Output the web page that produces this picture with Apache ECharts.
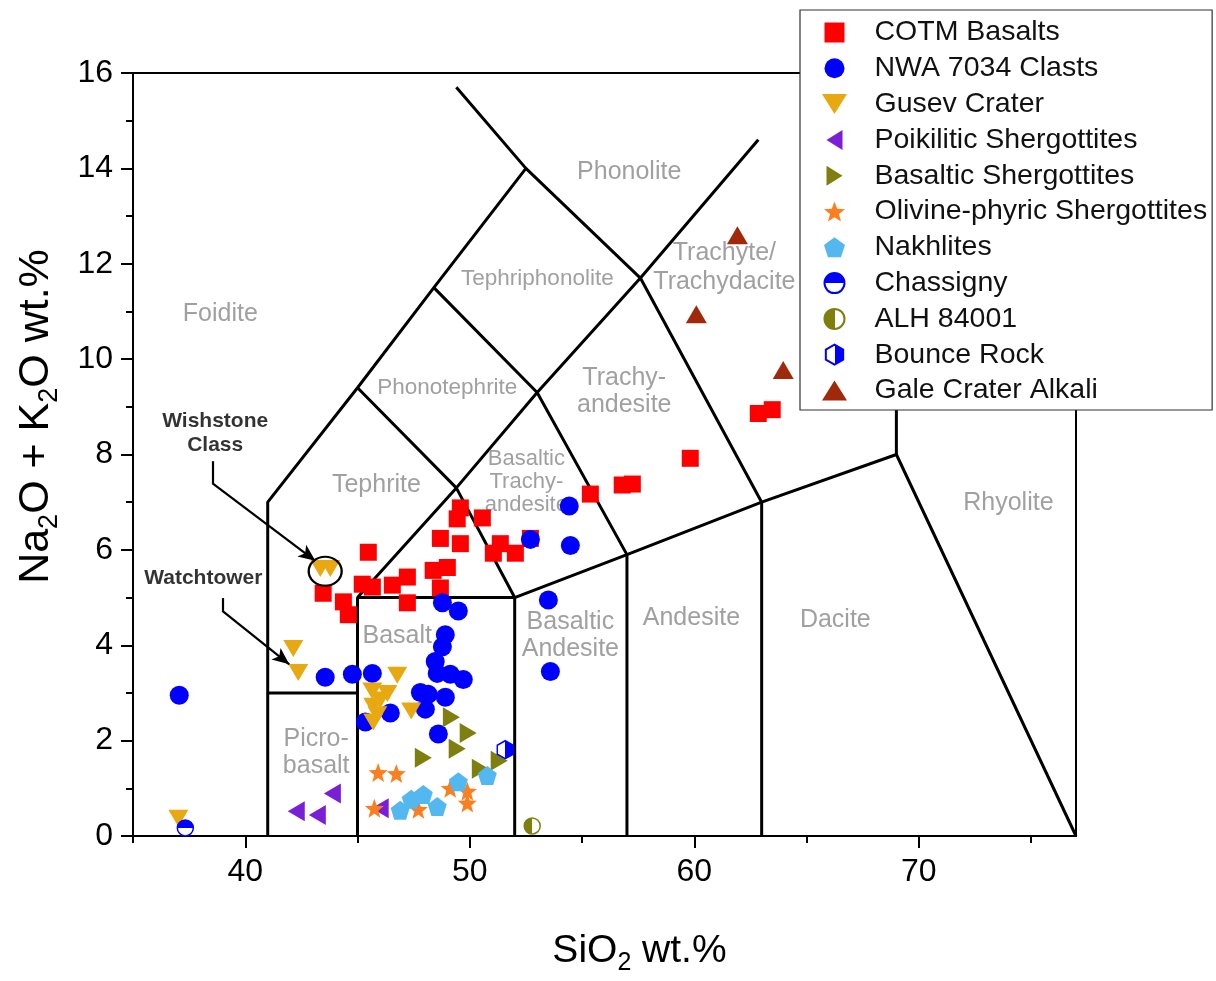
<!DOCTYPE html>
<html><head><meta charset="utf-8">
<script src="https://cdn.jsdelivr.net/npm/echarts@6/dist/echarts.min.js"></script>
<style>html,body{margin:0;padding:0;background:#fff}#c{width:1216px;height:981px}</style>
</head><body><div id="c"></div>
<script>
// ---------- DATA ----------
const xMajorTicks = [40, 50, 60, 70];
const xMinorTicks = [35, 45, 55, 65, 75];
const yTickStep = 2;

const cotmBasalts = [[43.47,5.09],[44.37,4.91],[44.59,4.64],[45.48,5.95],[45.21,5.28],[45.66,5.22],[46.55,5.26],[47.22,5.43],[47.22,4.89],[48.37,5.57],[49.0,5.63],[48.69,5.20],[48.69,6.24],[49.58,6.13],[49.44,6.65],[49.58,6.88],[50.56,6.67],[51.36,6.13],[51.05,5.93],[52.03,5.93],[52.7,6.24],[55.37,7.17],[56.79,7.36],[57.24,7.38],[59.82,7.92],[62.85,8.86],[63.47,8.94]];
const nwa7034Clasts = [[37.06,2.95],[43.56,3.33],[44.77,3.39],[45.66,3.41],[45.35,2.39],[46.46,2.58],[48.78,4.89],[49.49,4.72],[48.91,4.22],[48.78,3.97],[48.46,3.66],[48.55,3.41],[49.13,3.39],[49.71,3.28],[47.8,3.01],[48.15,2.97],[48.91,2.91],[48.02,2.66],[48.6,2.14],[52.7,6.22],[54.43,6.92],[54.48,6.09],[53.5,4.95],[53.59,3.45]];
const gusevCrater = [[43.34,5.61],[43.79,5.61],[42.14,3.93],[42.36,3.43],[37.02,0.37],[46.77,3.37],[45.66,3.04],[46.33,2.99],[46.01,2.85],[45.70,2.72],[45.88,2.54],[45.70,2.39],[47.39,2.62]];
const poikiliticShergottites = [[43.88,0.89],[42.27,0.52],[43.21,0.44],[46.01,0.58]];
const basalticShergottites = [[49.18,2.49],[49.93,2.16],[49.44,1.83],[47.93,1.64],[50.47,1.41],[51.31,1.58]];
const olivinePhyricShergottites = [[45.92,1.33],[46.73,1.31],[45.75,0.58],[47.71,0.56],[49.13,1.0],[49.89,0.94],[49.89,0.69]];
const nakhlites = [[46.9,0.54],[47.39,0.77],[47.93,0.87],[48.55,0.62],[49.49,1.14],[50.78,1.27]];
const chassigny = [[37.33,0.17]];
const alh84001 = [[52.78,0.21]];
const bounceRock = [[51.58,1.81]];
const galeCraterAlkali = [[61.92,12.6],[60.09,10.94],[63.96,9.77]];

// TAS field boundaries (SiO2, Na2O+K2O)
const tasBoundaries = [
  [[41,0],[41,7],[45,9.4],[48.4,11.5],[52.5,14],[49.4,15.7]],
  [[41,3],[45,3]],
  [[45,0],[45,5],[52,5],[52,0]],
  [[45,5],[49.4,7.3],[53,9.3],[57.6,11.7],[62.85,14.6]],
  [[45,9.4],[49.4,7.3],[52,5],[57,5.9],[63,7],[69,8],[77,0]],
  [[48.4,11.5],[53,9.3],[57,5.9],[57,0]],
  [[52.5,14],[57.6,11.7],[63,7],[63,0]],
  [[69,8],[69,12]]
];

const regionNames = ['Foidite','Phonolite','Tephriphonolite','Trachyte/\nTrachydacite','Phonotephrite','Trachy-\nandesite','Tephrite','Basaltic\nTrachy-\nandesite','Rhyolite','Basalt','Basaltic\nAndesite','Andesite','Dacite','Picro-\nbasalt'];
const regionAnchors = [[38.89,10.94],[57.10,13.93],[53.01,11.68],[61.34,11.91],[49.0,9.40],[56.88,9.31],[45.84,7.36],[52.52,7.42],[73.99,6.99],[46.77,4.20],[54.48,4.20],[59.87,4.57],[66.28,4.53],[43.16,1.75]];

const noteNames = ['Wishstone\nClass', 'Watchtower'];
const noteAnchors = [[38.66,8.44],[38.13,5.41]];
const wishstoneRing = [[43.56,5.55]];
const wishstoneArrow = [[38.53,7.86],[38.53,7.40],[43.12,5.77]];
const watchtowerArrow = [[38.98,4.99],[38.98,4.72],[41.96,3.60]];

// ---------- CHART ----------
const FONT = 'Liberation Sans, Arial, sans-serif';
const P = {
  square: 'path://M0,0 L1,0 L1,1 L0,1 Z',
  down: 'path://M-1,0 L1,0 L0,1.6 Z',
  up: 'path://M-1,1.6 L1,1.6 L0,0 Z',
  left: 'path://M1.6,-1 L1.6,1 L0,0 Z',
  right: 'path://M0,-1 L0,1 L1.6,0 Z',
  star: 'path://M0,-1 L0.247,-0.34 L0.951,-0.309 L0.399,0.13 L0.588,0.809 L0,0.42 L-0.588,0.809 L-0.399,0.13 L-0.951,-0.309 L-0.247,-0.34 Z',
  pent: 'path://M0,-1 L0.951,-0.309 L0.588,0.809 L-0.588,0.809 L-0.951,-0.309 Z',
  hex: 'path://M0,-1 L0.866,-0.5 L0.866,0.5 L0,1 L-0.866,0.5 L-0.866,-0.5 Z'
};
function split(c1, c2, vertical) {
  return {type:'linear', x:0, y:0, x2: vertical ? 0 : 1, y2: vertical ? 1 : 0,
    colorStops:[{offset:0,color:c1},{offset:0.5,color:c1},{offset:0.5,color:c2},{offset:1,color:c2}]};
}
const axisLineStyle = {color:'#000', width:2};

const series = [];
// region labels
series.push({
  type:'scatter', name:'regions', silent:true, symbolSize:1, itemStyle:{color:'transparent'}, z:1,
  data: regionNames.map((n,i)=>({name:n, value:regionAnchors[i]})),
  label:{show:true, position:'inside', formatter:'{b}', color:'#888888', fontFamily:FONT,
    fontSize:25, lineHeight:27, align:'center', verticalAlign:'middle'}
});
series[0].data.forEach(d=>{
  if (d.name==='Tephriphonolite' || d.name==='Phonotephrite') d.label = {fontSize:22.5};
  if (d.name.indexOf('Basaltic\nTrachy')===0) d.label = {fontSize:22, lineHeight:23};
  if (d.name.indexOf('Trachyte')===0) d.label = {fontSize:25, lineHeight:29};
});
// boundaries
tasBoundaries.forEach((b,i)=>{
  series.push({type:'line', name:'tas'+i, data:b, symbol:'none', silent:true, z:1,
    lineStyle:{color:'#000', width:3}, animation:false});
});
const dataSeries = [
  {name:'COTM Basalts', data:cotmBasalts, symbol:P.square, symbolSize:17, itemStyle:{color:'#ff0000'}},
  {name:'NWA 7034 Clasts', data:nwa7034Clasts, symbol:'circle', symbolSize:19, itemStyle:{color:'#0000ff'}},
  {name:'Gusev Crater', data:gusevCrater, symbol:P.down, symbolSize:[20,17], itemStyle:{color:'#e8a812'}},
  {name:'Poikilitic Shergottites', data:poikiliticShergottites, symbol:P.left, symbolSize:[17,20], itemStyle:{color:'#7a1fd6'}},
  {name:'Basaltic Shergottites', data:basalticShergottites, symbol:P.right, symbolSize:[17,20], itemStyle:{color:'#7f7f10'}},
  {name:'Olivine-phyric Shergottites', data:olivinePhyricShergottites, symbol:P.star, symbolSize:19, itemStyle:{color:'#fb7f1e'}},
  {name:'Nakhlites', data:nakhlites, symbol:P.pent, symbolSize:19, itemStyle:{color:'#54b8f0'}},
  {name:'Chassigny', data:chassigny, symbol:'circle', symbolSize:16, itemStyle:{color:split('#0000ff','#ffffff',true), borderColor:'#0000ff', borderWidth:1.5}},
  {name:'ALH 84001', data:alh84001, symbol:'circle', symbolSize:16, itemStyle:{color:split('#7f7f10','#ffffff',false), borderColor:'#7f7f10', borderWidth:1.5}},
  {name:'Bounce Rock', data:bounceRock, symbol:P.hex, symbolSize:[16,18], itemStyle:{color:split('#ffffff','#0000ff',false), borderColor:'#0000ff', borderWidth:1.5}},
  {name:'Gale Crater Alkali', data:galeCraterAlkali, symbol:P.up, symbolSize:[21,18], itemStyle:{color:'#a0290b'}}
];
dataSeries.forEach(s=>{
  s.itemStyle.opacity = 1;
  series.push(Object.assign({type:'scatter', z:3, animation:false}, s));
});

function arrowLines(pts){
  const out = [];
  for (let i=0;i<pts.length-1;i++){
    const last = i===pts.length-2;
    out.push([{coord:pts[i], symbol:'none'},{coord:pts[i+1], symbol: last ? 'arrow' : 'none'}]);
  }
  return out;
}
series.push({
  type:'scatter', name:'ring', silent:true, z:4, data:wishstoneRing, symbol:'circle', symbolSize:[33,29],
  itemStyle:{color:'rgba(0,0,0,0)', borderColor:'#000', borderWidth:2.2, opacity:1},
  markLine:{silent:true, animation:false, symbolSize:[11,17], label:{show:false},
    lineStyle:{color:'#000', width:2.2, type:'solid'},
    emphasis:{disabled:true},
    data: arrowLines(wishstoneArrow).concat(arrowLines(watchtowerArrow))}
});
series.push({
  type:'scatter', name:'notes', silent:true, z:4, symbolSize:1, itemStyle:{color:'transparent'},
  data: noteNames.map((n,i)=>({name:n, value:noteAnchors[i]})),
  label:{show:true, position:'inside', formatter:'{b}', color:'#000', fontWeight:'bold', fontFamily:FONT, fontSize:21, lineHeight:24}
});

const chart = echarts.init(document.getElementById('c'), null, {renderer:'canvas'});
chart.setOption({
  animation:false,
  backgroundColor:'#fff',
  grid:{left:133, right:140, top:73, bottom:138},
  legend:{
    data: dataSeries.map(s=>s.name), orient:'vertical', left:800, top:10,
    padding:[8,5,5,22], itemWidth:70, itemHeight:20, itemGap:6.8, selectedMode:false,
    backgroundColor:'#fff', borderColor:'#333', borderWidth:1.2, z:10,
    textStyle:{fontFamily:FONT, fontSize:28.5, lineHeight:27, color:'#111'}
  },
  xAxis:[
    {type:'value', min:35, max:77, position:'bottom',
     axisLine:{show:true, onZero:false, lineStyle:axisLineStyle},
     axisTick:{show:true, inside:false, length:12, customValues:xMajorTicks, lineStyle:axisLineStyle},
     axisLabel:{show:true, customValues:xMajorTicks, fontSize:32, color:'#000', fontFamily:FONT, margin:20},
     splitLine:{show:false},
     name:'SiO{s|2} wt.%', nameLocation:'middle', nameGap:90,
     nameTextStyle:{fontSize:39, color:'#000', fontFamily:FONT, lineHeight:50, padding:[0,0,0,70],
       rich:{s:{fontSize:25, verticalAlign:'bottom', lineHeight:50, fontFamily:FONT, color:'#000'}}}},
    {type:'value', min:35, max:77, position:'bottom', axisLine:{show:false},
     axisTick:{show:true, inside:false, length:7, customValues:xMinorTicks, lineStyle:axisLineStyle},
     axisLabel:{show:false}, splitLine:{show:false}},
    {type:'value', min:35, max:77, position:'top', axisLine:{show:true, onZero:false, lineStyle:axisLineStyle},
     axisTick:{show:false}, axisLabel:{show:false}, splitLine:{show:false}}
  ],
  yAxis:[
    {type:'value', min:0, max:16, interval:yTickStep, position:'left',
     axisLine:{show:true, onZero:false, lineStyle:axisLineStyle},
     axisTick:{show:true, inside:false, length:12, lineStyle:axisLineStyle},
     minorTick:{show:true, splitNumber:2, length:7, lineStyle:axisLineStyle},
     axisLabel:{fontSize:32, color:'#000', fontFamily:FONT, margin:20},
     splitLine:{show:false}, minorSplitLine:{show:false},
     name:'Na{s|2}O + K{s|2}O wt.%', nameLocation:'middle', nameGap:70, nameRotate:90,
     nameTextStyle:{fontSize:43, color:'#000', fontFamily:FONT, lineHeight:54, padding:[0,0,0,76],
       rich:{s:{fontSize:27, verticalAlign:'bottom', lineHeight:54, fontFamily:FONT, color:'#000'}}}},
    {type:'value', min:0, max:16, position:'right', axisLine:{show:true, onZero:false, lineStyle:axisLineStyle},
     axisTick:{show:false}, axisLabel:{show:false}, splitLine:{show:false}}
  ],
  series: series
});
</script></body></html>
